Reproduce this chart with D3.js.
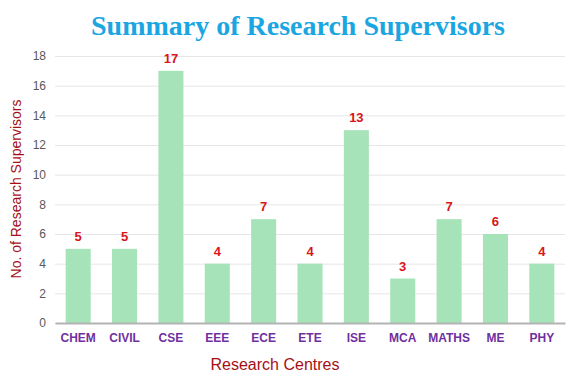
<!DOCTYPE html>
<html><head><meta charset="utf-8">
<script src="https://cdn.jsdelivr.net/npm/d3@7"></script>
<style>body{margin:0;background:#fff}svg{display:block}</style>
</head><body>
<script>
const categories = ["CHEM","CIVIL","CSE","EEE","ECE","ETE","ISE","MCA","MATHS","ME","PHY"];
const values = [5,5,17,4,7,4,13,3,7,6,4];
const yTicks = [0,2,4,6,8,10,12,14,16,18];

const W=576,H=383;
const m={left:55,right:11,top:56,bottom:60};
const svg=d3.select("body").append("svg").attr("width",W).attr("height",H);
const x=d3.scaleBand().domain(categories).range([m.left,W-m.right]).paddingInner(0.46).paddingOuter(0.23);
const y=d3.scaleLinear().domain([0,18]).range([H-m.bottom,m.top]);

svg.append("text").attr("x",298).attr("y",35).attr("text-anchor","middle")
  .attr("font-family","Liberation Serif, Times New Roman, serif").attr("font-weight","bold")
  .attr("font-size",28).attr("fill","#1ba6e2").text("Summary of Research Supervisors");

const yAxis=svg.append("g").attr("transform",`translate(${m.left},0)`)
  .call(d3.axisLeft(y).tickValues(yTicks).tickSize(-(W-m.left-m.right)).tickPadding(9));
yAxis.select(".domain").remove();
yAxis.selectAll(".tick line").attr("stroke","#e6e6e6");
yAxis.selectAll(".tick text").attr("fill","#595959").attr("font-size",12).attr("font-family","Liberation Sans, Arial, sans-serif");

svg.selectAll("rect.bar").data(values).join("rect").attr("class","bar")
  .attr("x",(d,i)=>x(categories[i])).attr("width",x.bandwidth())
  .attr("y",d=>y(d)).attr("height",d=>y(0)-y(d)).attr("fill","#a7e3b8");

svg.selectAll("text.val").data(values).join("text").attr("class","val")
  .attr("x",(d,i)=>x(categories[i])+x.bandwidth()/2).attr("y",d=>y(d)-8)
  .attr("text-anchor","middle").attr("font-family","Liberation Sans, Arial, sans-serif")
  .attr("font-weight","bold").attr("font-size",13).attr("fill","#d9141b").text(d=>d);

const xAxis=svg.append("g").attr("transform",`translate(0,${y(0)})`)
  .call(d3.axisBottom(x).tickSize(0).tickPadding(10));
xAxis.select(".domain").attr("stroke","#b3b3b3").attr("stroke-width",2);
xAxis.selectAll(".tick text").attr("fill","#7030a0").attr("font-weight","bold").attr("font-size",12)
  .attr("font-family","Liberation Sans, Arial, sans-serif");

svg.append("text").attr("x",275).attr("y",370).attr("text-anchor","middle")
  .attr("font-family","Liberation Sans, Arial, sans-serif").attr("font-size",16).attr("fill","#a50f15")
  .text("Research Centres");
svg.append("text").attr("transform",`translate(21,189) rotate(-90)`).attr("text-anchor","middle")
  .attr("font-family","Liberation Sans, Arial, sans-serif").attr("font-size",14).attr("fill","#a50f15")
  .text("No. of Research Supervisors");
</script>
</body></html>
